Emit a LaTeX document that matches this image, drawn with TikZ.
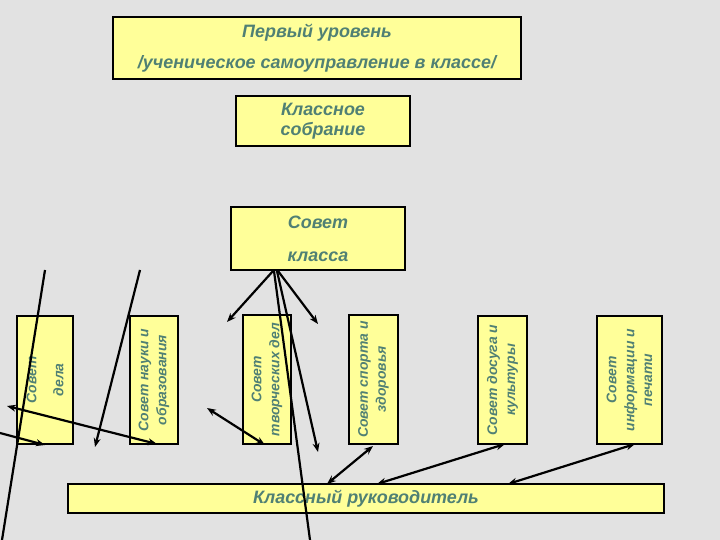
\documentclass[tikz,border=0pt]{standalone}
\usepackage{fontspec}
\setmainfont{Liberation Sans}
\usetikzlibrary{arrows.meta}
\definecolor{bgc}{HTML}{E2E2E2}
\definecolor{boxy}{HTML}{FFFF99}
\definecolor{txtc}{RGB}{80,128,116}
\begin{document}
\begin{tikzpicture}[x=1bp,y=-1bp,
  box/.style={draw=black, line width=2bp, fill=boxy, inner sep=0pt, text=txtc, align=center},
  hbox/.style={box, font=\fontsize{18}{20}\selectfont\bfseries\itshape},
  vbox/.style={box, rotate=90, minimum width=128bp, font=\fontsize{14}{18}\selectfont\bfseries\itshape},
  con/.style={line width=2.2bp, draw=black},
  arr/.style={con, -{Stealth[length=9bp,width=7bp]}},
  darr/.style={con, {Stealth[length=9bp,width=7bp]}-{Stealth[length=9bp,width=7bp]}}]
\useasboundingbox (0,0) rectangle (720,540);
\fill[bgc] (0,0) rectangle (720,540);

% top boxes
\node[hbox, minimum width=408bp, minimum height=62bp] (lvl) at (317,48)
  {Первый уровень\\[11bp]/ученическое самоуправление в классе/};
\node[hbox, minimum width=174bp, minimum height=50bp] (sob) at (323,121)
  {Классное\\собрание};
\node[hbox, minimum width=174bp, minimum height=63bp] (sk) at (318,238.5)
  {Совет\\[13bp]класса};

% vertical councils
\node[vbox, minimum height=56bp] (v1) at (45,380) {Совет\\[9bp]дела};
\node[vbox, minimum height=48bp] (v2) at (154,380) {Совет науки и\\образования};
\node[vbox, minimum height=48bp, minimum width=129bp] (v3) at (267,379.5) {Совет\\творческих дел};
\node[vbox, minimum height=49bp, minimum width=129bp] (v4) at (373.5,379.5) {Совет спорта и\\здоровья};
\node[vbox, minimum height=49bp] (v5) at (502.5,380) {Совет досуга и\\культуры};
\node[vbox, minimum height=65bp] (v6) at (629.5,380) {Совет\\информации и\\печати};

% bottom
\node[hbox, minimum width=596bp, minimum height=29bp] (rk) at (366,498.5)
  {Классный руководитель};

% free ends
\coordinate (p1a) at (45,270);   \coordinate (p1b) at (2,540);
\coordinate (p2a) at (140,270);  \coordinate (p2b) at (95,447);
\coordinate (p3a) at (7,406);    \coordinate (p3b) at (157,444);
\coordinate (p4a) at (0,433);    \coordinate (p4b) at (45,445);
\coordinate (p5a) at (207,408);  \coordinate (p5b) at (265,445);
\coordinate (s1) at (273,271);   \coordinate (q1) at (227,322);
\coordinate (s2) at (278,271);   \coordinate (q2) at (318,324);
\coordinate (s3) at (274,271);   \coordinate (q3) at (310,540);
\coordinate (s4) at (277,271);   \coordinate (q4) at (318,452);
\coordinate (r1) at (327,484);   \coordinate (t1) at (373,446);
\coordinate (r2) at (377,484);   \coordinate (t2) at (505,444);
\coordinate (r3) at (508,484);   \coordinate (t3) at (635,444);

\draw[con] (p1a) -- (p1b);
\draw[arr] (p2a) -- (p2b);
\draw[darr] (p3a) -- (p3b);
\draw[arr] (p4a) -- (p4b);
\draw[darr] (p5a) -- (p5b);
\draw[arr] (s1) -- (q1);
\draw[arr] (s2) -- (q2);
\draw[con] (s3) -- (q3);
\draw[arr] (s4) -- (q4);
\draw[darr] (r1) -- (t1);
\draw[darr] (r2) -- (t2);
\draw[darr] (r3) -- (t3);
\end{tikzpicture}
\end{document}
